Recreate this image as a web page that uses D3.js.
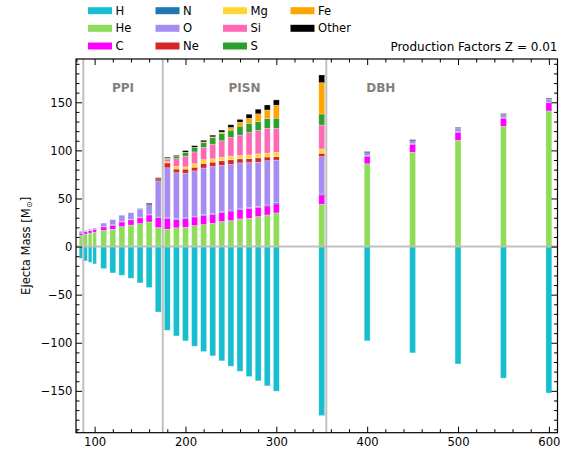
<!DOCTYPE html>
<html>
<head>
<meta charset="utf-8">
<script src="https://cdn.jsdelivr.net/npm/d3@7"></script>
<style>
  html, body { margin: 0; padding: 0; background: #fff; }
  svg { display: block; font-family: "DejaVu Sans", sans-serif; }
</style>
</head>
<body>
<svg id="chart" width="572" height="449"></svg>
<script>
// Initial stellar masses (Msun)
const masses = [85, 90, 95, 100, 110, 120, 130, 140, 150, 160, 170,
  180, 190, 200, 210, 220, 230, 240, 250, 260, 270, 280, 290, 300, 350,
  400, 450, 500, 550, 600];

// Ejected mass per species (Msun); H is plotted below zero
const H = [12.2, 14.9, 16.3, 18, 22.9, 27.4, 29.8, 32.9, 37.8, 42.6, 68,
  87, 92.9, 98, 103.6, 109.1, 113.6, 118.8, 124.4, 129.6, 135.1, 139.6, 144.8, 150.3, 175.7,
  98, 110.5, 122, 136.8, 152.2];
const He = [11.5, 13, 14, 15, 16.8, 18, 20.8, 22.3, 23.9, 25.6, 19.7,
  18, 19.5, 20.1, 21.8, 22.9, 24.2, 26, 27, 28.8, 29.4, 31.2, 32.9, 35, 44,
  86.1, 98, 110.5, 125, 141];
const C = [2.3, 2.4, 2.5, 2.8, 3.7, 4.2, 4.8, 5.5, 6, 7.3, 10.4,
  11, 8.7, 9, 9, 9.4, 9.4, 9.7, 10, 9.7, 10.4, 9.7, 9.4, 9.4, 9.7,
  7.8, 8.3, 8.3, 8.5, 8.5];
const N = [1.2, 0.3, 0.3, 0.3, 0.6, 0.5, 0.5, 0.6, 0.7, 0.7, 0.6,
  0.9, 0.8, 0.8, 0.8, 0.9, 0.9, 0.9, 0.9, 0.7, 0.7, 0.7, 0.9, 1.2, 1,
  0.7, 0.7, 0.7, 0.6, 0.6];
const O = [1, 1, 1.3, 1.2, 3.3, 5.3, 6.5, 6.8, 8.5, 10, 37.5,
  52, 47.8, 46.4, 47.1, 48.5, 48.8, 47.8, 47.5, 47.8, 46.8, 46.1, 46.1, 44.3, 38.8,
  3.1, 3.1, 3.5, 3.3, 3.3];
const Ne = [0, 0, 0, 0, 0, 0, 0, 0, 0, 0, 2.1,
  5, 3.8, 4.2, 3.8, 4.8, 4.5, 4.8, 4.8, 4.2, 4.2, 4.5, 3.8, 3.5, 3.5,
  0, 0, 0, 0, 0];
const Mg = [0, 0, 0, 0, 0, 0, 0, 0, 0, 0, 0.3,
  1.5, 2.8, 2.4, 3.8, 3.8, 3.5, 3.5, 3.8, 3.5, 3.8, 4.2, 4.2, 4.5, 4.5,
  0, 0, 0, 0, 0];
const Si = [0, 0, 0, 0, 0, 0, 0, 0, 0, 0, 0,
  2.5, 8, 11.1, 12.1, 12.8, 15.2, 17.3, 19.4, 21.1, 23.2, 24.2, 25.6, 24.9, 24.9,
  0, 0, 0, 0, 0];
const S = [0, 0, 0, 0, 0, 0, 0, 0, 0, 0, 0,
  0.8, 2.4, 3.8, 4.5, 5.2, 6.6, 7.6, 7.6, 9.4, 9.7, 9.4, 10.4, 10.7, 11.4,
  0, 0, 0, 0, 0];
const Fe = [0, 0, 0, 0, 0, 0, 0, 0, 0, 0, 0,
  0.2, 0, 0.3, 0.3, 0.5, 1, 1.4, 2.8, 4.2, 5.2, 8, 8.7, 13.5, 32.6,
  0, 0, 0, 0, 0];
const Other = [0, 0, 0, 0, 0, 0, 0, 0, 0.3, 1.4, 1.0,
  1.0, 1.0, 1.7, 1.7, 1.7, 1.7, 2.1, 2.8, 2.8, 4.2, 4.8, 5.2, 5.5, 8,
  1, 1, 0.8, 0.8, 0.8];

const species = ["H", "He", "C", "N", "O", "Ne", "Mg", "Si", "S", "Fe", "Other"];
const colors = ["#17becf", "#8fdc5a", "#ff00ff", "#1f77b4", "#a68cf0", "#d62728",
  "#ffd633", "#ff69b4", "#2ca02c", "#ffa500", "#000000"];

// Regime boundaries and labels
const boundaries = [87.5, 175, 355];
const regimes = ["PPI", "PISN", "DBH"];
const regimeCenters = [131.25, 265, 415];

const xTicks = [100, 200, 300, 400, 500, 600];
const yTicks = [-150, -100, -50, 0, 50, 100, 150];

const series = { H, He, C, N, O, Ne, Mg, Si, S, Fe, Other };
const color = d3.scaleOrdinal(species, colors);

const rows = masses.map((m, i) => {
  const r = { mass: m };
  species.forEach(k => r[k] = series[k][i]);
  return r;
});

const svg = d3.select("#chart");
const plot = { left: 76, right: 557.5, top: 59, bottom: 432.7 };
const FS = 11.6;

const x = d3.scaleLinear().domain([79.5, 609.5]).range([plot.left, plot.right]);
const y = d3.scaleLinear().domain([-193.5, 195]).range([plot.bottom, plot.top]);

const barWidth = m => (m <= 100 ? 4 : 6.5);

// stacked positive part (all species except H)
const posKeys = species.slice(1);
const stacked = d3.stack().keys(posKeys)(rows);

const g = svg.append("g");

stacked.forEach(layer => {
  g.append("g")
    .attr("fill", color(layer.key))
    .selectAll("rect")
    .data(layer.filter(d => d[1] - d[0] > 0))
    .join("rect")
    .attr("x", d => x(d.data.mass - barWidth(d.data.mass) / 2))
    .attr("width", d => x(d.data.mass + barWidth(d.data.mass) / 2) - x(d.data.mass - barWidth(d.data.mass) / 2))
    .attr("y", d => y(d[1]))
    .attr("height", d => y(d[0]) - y(d[1]));
});

// hydrogen drawn downward
g.append("g")
  .attr("fill", color("H"))
  .selectAll("rect")
  .data(rows)
  .join("rect")
  .attr("x", d => x(d.mass - barWidth(d.mass) / 2))
  .attr("width", d => x(d.mass + barWidth(d.mass) / 2) - x(d.mass - barWidth(d.mass) / 2))
  .attr("y", y(0))
  .attr("height", d => y(-d.H) - y(0));

// soft white outlines around bar segments
g.selectAll("rect").attr("stroke", "#ffffff").attr("stroke-opacity", 0.45).attr("stroke-width", 0.6);

// zero line and regime separators
svg.append("line")
  .attr("x1", plot.left).attr("x2", plot.right)
  .attr("y1", y(0)).attr("y2", y(0))
  .attr("stroke", "#c0c0c0").attr("stroke-width", 2);
svg.selectAll(".sep").data(boundaries).join("line")
  .attr("class", "sep")
  .attr("x1", d => x(d)).attr("x2", d => x(d))
  .attr("y1", plot.top).attr("y2", plot.bottom)
  .attr("stroke", "#c0c0c0").attr("stroke-width", 2);

// regime labels
svg.selectAll(".regime").data(regimes).join("text")
  .attr("class", "regime")
  .attr("x", (d, i) => x(regimeCenters[i]))
  .attr("y", y(165))
  .attr("dy", "0.36em")
  .attr("text-anchor", "middle")
  .attr("font-size", 12)
  .attr("font-weight", "bold")
  .attr("fill", "#808080")
  .text(d => d);

// axes with inward ticks on all four sides
function styleAxis(sel) {
  sel.select(".domain").remove();
  sel.selectAll("line").attr("stroke", "#000").attr("stroke-width", 1);
  sel.selectAll("text").attr("font-size", FS).attr("fill", "#000").attr("font-family", "DejaVu Sans");
}
const xMinor = d3.range(80, 611, 20).filter(v => v % 100 !== 0);
const yMinor = d3.range(-190, 191, 10).filter(v => v % 50 !== 0);
const fmt = d => (d < 0 ? "\u2212" + Math.abs(d) : String(d));

svg.append("g").attr("transform", `translate(0,${plot.bottom})`)
  .call(d3.axisBottom(x).tickValues(xTicks).tickSize(-6).tickPadding(5).tickFormat(fmt)).call(styleAxis);
svg.append("g").attr("transform", `translate(0,${plot.bottom})`)
  .call(d3.axisBottom(x).tickValues(xMinor).tickSize(-3.5).tickFormat("")).call(styleAxis);
svg.append("g").attr("transform", `translate(0,${plot.top})`)
  .call(d3.axisTop(x).tickValues(xTicks).tickSize(-6).tickFormat("")).call(styleAxis);
svg.append("g").attr("transform", `translate(0,${plot.top})`)
  .call(d3.axisTop(x).tickValues(xMinor).tickSize(-3.5).tickFormat("")).call(styleAxis);

svg.append("g").attr("transform", `translate(${plot.left},0)`)
  .call(d3.axisLeft(y).tickValues(yTicks).tickSize(-6).tickPadding(3.5).tickFormat(fmt)).call(styleAxis);
svg.append("g").attr("transform", `translate(${plot.left},0)`)
  .call(d3.axisLeft(y).tickValues(yMinor).tickSize(-3.5).tickFormat("")).call(styleAxis);
svg.append("g").attr("transform", `translate(${plot.right},0)`)
  .call(d3.axisRight(y).tickValues(yTicks).tickSize(-6).tickFormat("")).call(styleAxis);
svg.append("g").attr("transform", `translate(${plot.right},0)`)
  .call(d3.axisRight(y).tickValues(yMinor).tickSize(-3.5).tickFormat("")).call(styleAxis);

// frame
svg.append("rect")
  .attr("x", plot.left).attr("y", plot.top)
  .attr("width", plot.right - plot.left).attr("height", plot.bottom - plot.top)
  .attr("fill", "none").attr("stroke", "#000").attr("stroke-width", 1.2);

// y-axis title
const yl = svg.append("text")
  .attr("transform", `translate(30,${(plot.top + plot.bottom) / 2}) rotate(-90)`)
  .attr("text-anchor", "middle")
  .attr("font-size", FS)
  .attr("fill", "#000");
yl.append("tspan").text("Ejecta Mass [M");
yl.append("tspan").attr("font-size", FS * 0.7).attr("dy", "0.3em").text("\u2299");
yl.append("tspan").attr("dy", "-0.3em").text("]");

// title at upper right
svg.append("text")
  .attr("x", plot.right).attr("y", 51)
  .attr("text-anchor", "end")
  .attr("font-size", 12)
  .attr("fill", "#000")
  .text("Production Factors Z = 0.01");

// legend: three rows, filled column by column
const legendX = [88, 155.5, 223, 290.5];
const legendY = [10.7, 28.3, 46];
const leg = svg.append("g");
species.forEach((k, i) => {
  const col = Math.floor(i / 3), row = i % 3;
  const item = leg.append("g").attr("transform", `translate(${legendX[col]},${legendY[row]})`);
  item.append("rect").attr("x", 0).attr("y", -3.5).attr("width", 24).attr("height", 7).attr("fill", color(k));
  item.append("text").attr("x", 27.5).attr("y", 0).attr("dy", "0.36em")
    .attr("font-size", FS).attr("fill", "#000").text(k);
});
</script>
</body>
</html>
